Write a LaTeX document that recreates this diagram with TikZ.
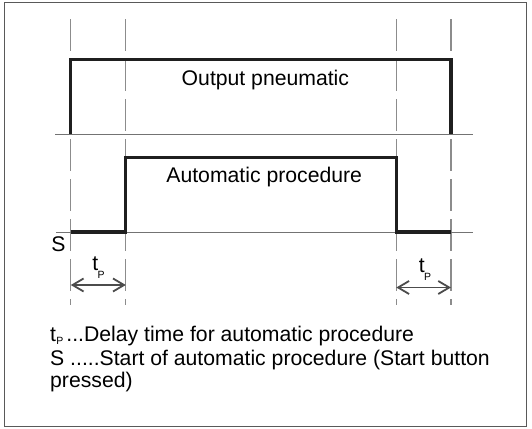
\documentclass[tikz,border=0pt]{standalone}
\usepackage{fontspec}
\setmainfont{Liberation Sans}
\usetikzlibrary{arrows.meta}
\newcommand\subP{\kern-0.6pt\raisebox{-7.5pt}{\fontsize{10.5}{10.5}\selectfont P}}
\newcommand\legP{\kern0.3pt\raisebox{-3pt}{\fontsize{10.5}{10.5}\selectfont P}}
\begin{document}
\begin{tikzpicture}[x=1pt,y=-1pt,
  frame/.style={draw=black!65,line width=1pt},
  guide/.style={draw=black!45,line width=1.2pt,dash pattern=on 32pt off 8pt},
  axis/.style={draw=black!55,line width=1pt},
  pulse/.style={draw=black!88,line width=3.2pt,line join=miter,line cap=butt},
  dim/.style={draw=black!70,line width=1.1pt,{Straight Barb[length=11pt,width=13pt,line width=1.8pt]}-{Straight Barb[length=11pt,width=13pt,line width=1.8pt]}},
  lbl/.style={inner sep=0pt,font=\fontsize{21.2}{22}\selectfont},
]
\useasboundingbox (0,0) rectangle (532,428);
\draw[frame] (4,3) rectangle (526,426);
% time coordinates
\coordinate (g1t) at (70.8,19.3); \coordinate (g1b) at (70.8,305);
\coordinate (g2t) at (125.8,19.3); \coordinate (g2b) at (125.8,305);
\coordinate (g3t) at (396.3,19.3); \coordinate (g3b) at (396.3,305);
\coordinate (g4t) at (451,19.3); \coordinate (g4b) at (451,305);
\draw[guide] (g1t) -- (g1b);
\draw[guide] (g2t) -- (g2b);
\draw[guide] (g3t) -- (g3b);
\draw[guide] (g4t) -- (g4b);
% axes
\coordinate (a1l) at (55,134); \coordinate (a1r) at (473,134);
\coordinate (a2l) at (56,232); \coordinate (a2r) at (473,232);
\draw[axis] (a1l) -- (a1r);
\draw[axis] (a2l) -- (a2r);
% output pneumatic signal
\coordinate (p1) at (70.8,134); \coordinate (p2) at (70.8,59.2);
\coordinate (p3) at (451,59.2); \coordinate (p4) at (451,134);
\draw[pulse] (p1) -- (p2) -- (p3) -- (p4);
% automatic procedure signal
\coordinate (q1) at (70.8,232); \coordinate (q2) at (125.8,232);
\coordinate (q3) at (125.8,157.5); \coordinate (q4) at (396.3,157.5);
\coordinate (q5) at (396.3,232); \coordinate (q6) at (451,232);
\draw[pulse] (q1) -- (q2) -- (q3) -- (q4) -- (q5) -- (q6);
% labels
\node[lbl,anchor=base] (out) at (265.4,85) {Output pneumatic};
\node[lbl,anchor=base] (auto) at (264.2,182.7) {Automatic procedure};
\node[lbl,anchor=base] (s) at (58.4,251) {S};
\node[lbl,anchor=base] (tp1) at (98.6,270.5) {t\subP};
\node[lbl,anchor=base] (tp2) at (425,272.5) {t\subP};
% dimension arrows
\coordinate (d1l) at (70.8,285) ; \coordinate (d1r) at (125.8,285);
\coordinate (d2l) at (396.3,287.5); \coordinate (d2r) at (451,287.5);
\draw[dim] (d1l) -- (d1r);
\draw[dim] (d2l) -- (d2r);
% legend
\node[lbl,anchor=base west] (leg1) at (50,341) {t\legP\kern3pt...Delay time for automatic procedure};
\node[lbl,anchor=base west] (leg2) at (50,365) {S .....Start of automatic procedure (Start button};
\node[lbl,anchor=base west] (leg3) at (50,387.5) {pressed)};
\end{tikzpicture}
\end{document}
